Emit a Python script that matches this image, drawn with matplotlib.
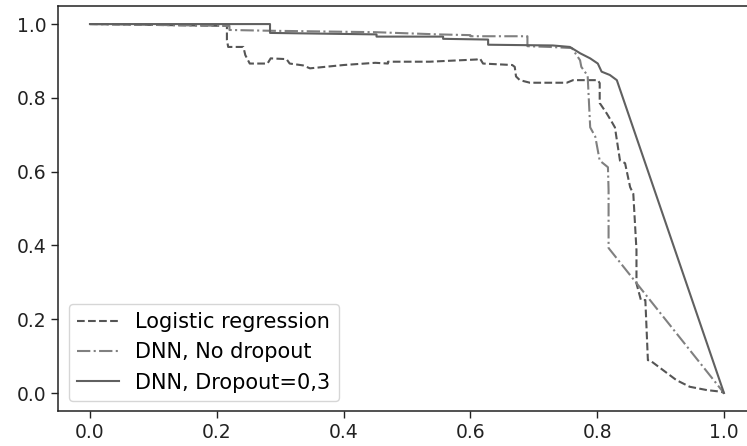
"""Precision-recall curves for the three classifiers."""
import matplotlib
matplotlib.use('Agg')
import matplotlib.pyplot as plt

# Logistic regression
lr_recall = [0.0, 0.216, 0.216, 0.218, 0.242, 0.245, 0.252, 0.28, 0.285, 0.31,
             0.315, 0.336, 0.347, 0.40, 0.45, 0.47, 0.47, 0.536, 0.61, 0.615,
             0.62, 0.666, 0.67, 0.672, 0.678, 0.694, 0.752, 0.762, 0.801, 0.804,
             0.804, 0.815, 0.823, 0.828, 0.836, 0.844, 0.852, 0.857, 0.862, 0.862,
             0.869, 0.876, 0.88, 0.883, 0.904, 0.925, 0.946, 0.973, 0.996, 1.0]
lr_precision = [1.0, 0.995, 0.957, 0.938, 0.938, 0.916, 0.893, 0.893, 0.907, 0.905,
                0.893, 0.888, 0.88, 0.889, 0.895, 0.893, 0.898, 0.898, 0.904, 0.907,
                0.893, 0.889, 0.884, 0.858, 0.848, 0.841, 0.841, 0.848, 0.848, 0.84,
                0.786, 0.758, 0.735, 0.72, 0.63, 0.623, 0.558, 0.54, 0.387, 0.297,
                0.252, 0.252, 0.089, 0.089, 0.062, 0.035, 0.017, 0.008, 0.0035, 0.0]

# DNN without dropout
nd_recall = [0.0, 0.22, 0.22, 0.28, 0.45, 0.55, 0.60, 0.60, 0.69, 0.69,
             0.725, 0.76, 0.773, 0.775, 0.785, 0.789, 0.797, 0.804, 0.817, 0.818,
             0.818, 1.0]
nd_precision = [1.0, 0.995, 0.984, 0.982, 0.978, 0.972, 0.970, 0.967, 0.967, 0.940,
                0.938, 0.935, 0.902, 0.884, 0.86, 0.72, 0.695, 0.63, 0.612, 0.55,
                0.393, 0.0]

# DNN with dropout 0.3
do_recall = [0.0, 0.284, 0.284, 0.452, 0.452, 0.557, 0.557, 0.628, 0.628, 0.73,
             0.757, 0.773, 0.789, 0.801, 0.807, 0.820, 0.831, 1.0]
do_precision = [1.0, 1.0, 0.976, 0.972, 0.966, 0.966, 0.960, 0.958, 0.944, 0.942,
                0.938, 0.921, 0.907, 0.893, 0.871, 0.862, 0.848, 0.0]

fig = plt.figure(figsize=(7.47, 4.46), dpi=100)
ax = fig.add_axes([0.078, 0.0774, 0.9336, 0.910])

ax.plot(lr_recall, lr_precision, '--', color='#555555', lw=1.5, label='Logistic regression')
ax.plot(nd_recall, nd_precision, '-.', color='#808080', lw=1.5, label='DNN, No dropout')
ax.plot(do_recall, do_precision, '-', color='#606060', lw=1.5, label='DNN, Dropout=0,3')

ax.set_xlim(-0.05, 1.05)
ax.set_ylim(-0.05, 1.05)
ax.set_xticks([0.0, 0.2, 0.4, 0.6, 0.8, 1.0])
ax.set_yticks([0.0, 0.2, 0.4, 0.6, 0.8, 1.0])
ax.tick_params(labelsize=13.5, length=5, width=1.0, colors='#222222')
for sp in ax.spines.values():
    sp.set_linewidth(1.1)
    sp.set_color('#222222')
ax.legend(loc='lower left', fontsize=15)

fig.savefig('out.png', dpi=100)
